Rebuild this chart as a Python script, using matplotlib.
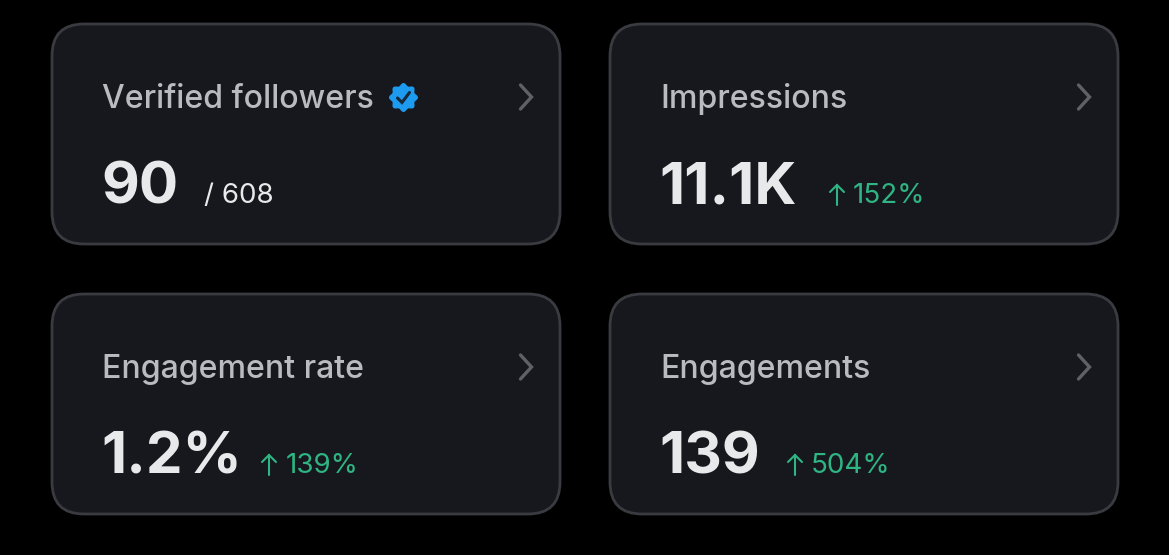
import numpy as np
import matplotlib
matplotlib.use("Agg")
import matplotlib.pyplot as plt
from matplotlib.patches import FancyBboxPatch, Polygon

titles = ["Verified followers", "Impressions", "Engagement rate", "Engagements"]
values = ["90", "11.1K", "1.2%", "139"]
details = ["/ 608", "152%", "139%", "504%"]
has_arrow = [False, True, True, True]

card_x = [52, 610, 52, 610]
card_y = [24, 24, 294, 294]
detail_x = [203.5, 853, 286, 811]
arrow_x = [837, 837, 269, 795]
CARD_W, CARD_H = 508, 220

BG = "#000000"; CARD = "#16181d"; EDGE = "#393b40"
TITLE = "#b9bbc0"; VALUE = "#e7e9ea"; GREEN = "#2fb583"; CHEV = "#5f6166"; BLUE = "#1d9bf0"

plt.rcParams["font.family"] = ["Inter", "DejaVu Sans"]
fig = plt.figure(figsize=(11.69, 5.55), dpi=100, facecolor=BG)
ax = fig.add_axes([0, 0, 1, 1])
ax.set_xlim(0, 1169); ax.set_ylim(555, 0); ax.axis("off")

for i, title in enumerate(titles):
    x, y = card_x[i], card_y[i]
    r = 32
    ax.add_patch(FancyBboxPatch((x + r, y + r), CARD_W - 2 * r, CARD_H - 2 * r,
                                boxstyle=f"round,pad={r},rounding_size={r}",
                                fc=CARD, ec=EDGE, lw=2.0, mutation_aspect=1))
    ax.text(x + 50, y + 84, title, color=TITLE, fontsize=23.1, fontweight=500,
            va="baseline", ha="left", family="Inter")
    ax.text(x + 49, y + 179.5, values[i], color=VALUE, fontsize=42, fontweight="bold",
            va="baseline", ha="left", family="Inter")
    ax.text(detail_x[i], y + 179, details[i], color=GREEN if has_arrow[i] else VALUE,
            fontsize=20, va="baseline", ha="left", family="Inter")
    if has_arrow[i]:
        ax.plot([arrow_x[i]] * 2, [y + 161, y + 181], color=GREEN, lw=1.5, solid_capstyle="round")
        ax.plot([arrow_x[i] - 7, arrow_x[i], arrow_x[i] + 7], [y + 168, y + 161, y + 168],
                color=GREEN, lw=1.5, solid_capstyle="round", solid_joinstyle="miter")
    cx = x + CARD_W - 33
    ax.plot([cx - 6.5, cx + 4.5, cx - 6.5], [y + 61, y + 73, y + 85], color=CHEV, lw=2.4,
            solid_joinstyle="miter", solid_capstyle="round")

# verified badge
bx, by = 403.5, 97.5
t = np.linspace(0, 2 * np.pi, 240)
rad = 13.2 + 1.3 * np.cos(8 * t)
ax.add_patch(Polygon(np.c_[bx + rad * np.cos(t), by + rad * np.sin(t)], fc=BLUE, ec="none"))
ax.plot([bx - 6, bx - 1.5, bx + 6], [by + 0.5, by + 5, by - 5], color="#16283c", lw=2.2,
        solid_capstyle="round", solid_joinstyle="miter")

fig.savefig("out.png", dpi=100, facecolor=BG)
